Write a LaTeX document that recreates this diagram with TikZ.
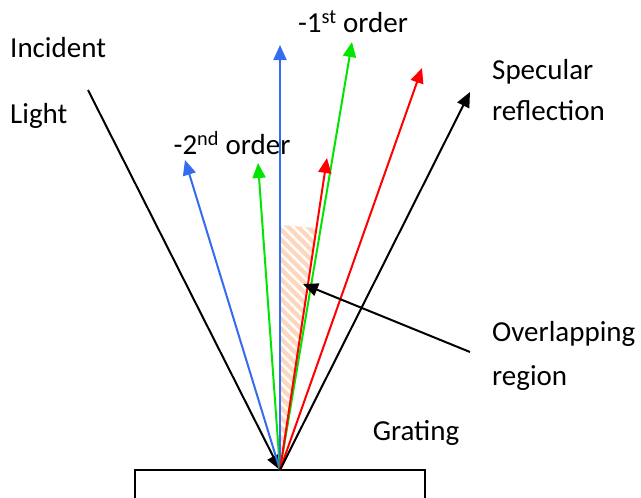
\documentclass[tikz,border=0pt]{standalone}
\usepackage{fontspec}
\setmainfont{Carlito}
\usetikzlibrary{arrows.meta,patterns.meta}
\definecolor{azul}{RGB}{52,108,240}
\definecolor{verde}{RGB}{0,230,0}
\definecolor{rojo}{RGB}{255,0,0}
\definecolor{naranja}{RGB}{253,214,188}

\begin{document}
\begin{tikzpicture}[x=1pt, y=-1pt,
    ray/.style={line width=2pt, -{Triangle[length=15pt, width=13pt]}},
    lbl/.style={font=\fontsize{29}{31}\selectfont, inner sep=0pt}]
    \useasboundingbox (0,0) rectangle (641,498);

    % Puntos
    \coordinate (O) at (280,470);
    \coordinate (inc) at (88,90);
    \coordinate (b1) at (185,160);
    \coordinate (g1) at (258,163);
    \coordinate (b0) at (280,45);
    \coordinate (g0) at (352,42);
    \coordinate (r1) at (327,158);
    \coordinate (r0) at (422,68);
    \coordinate (spec) at (470,92);
    \coordinate (ovA) at (470,352);
    \coordinate (ovB) at (303,284);

    % Region solapada (rayada)
    \fill[naranja] (281,225) -- (316,228) -- (O) -- cycle;
    \fill[pattern={Lines[angle=-45, distance=7pt, line width=2.5pt]}, pattern color=white]
        (281,225) -- (316,228) -- (O) -- cycle;

    % Red de difraccion
    \draw[line width=1.5pt] (135,498) -- (135,470) -- (425,470) -- (425,498);

    % Haces
    \draw[ray] (inc) -- (O);
    \draw[ray, azul] (O) -- (b1);
    \draw[ray, verde] (O) -- (g1);
    \draw[ray, azul] (O) -- (b0);
    \draw[ray, verde] (O) -- (g0);
    \draw[ray, rojo] (O) -- (r1);
    \draw[ray, rojo] (O) -- (r0);
    \draw[ray] (O) -- (spec);
    \draw[ray] (ovA) -- (ovB);

    % Etiquetas
    \node[lbl, anchor=west] (tInc) at (10,48) {Incident};
    \node[lbl, anchor=west] (tLight) at (10,116) {Light};
    \node[lbl] (tOrd2) at (232,143) {-2\textsuperscript{nd} order};
    \node[lbl] (tOrd1) at (353,22) {-1\textsuperscript{st} order};
    \node[lbl, anchor=west] (tSpec) at (492,72) {Specular};
    \node[lbl, anchor=west] (tRefl) at (492,111) {reflection};
    \node[lbl, anchor=west] (tOver) at (492,334) {Overlapping};
    \node[lbl, anchor=west] (tReg) at (492,378) {region};
    \node[lbl] (tGrat) at (416,433) {Grating};
\end{tikzpicture}
\end{document}
